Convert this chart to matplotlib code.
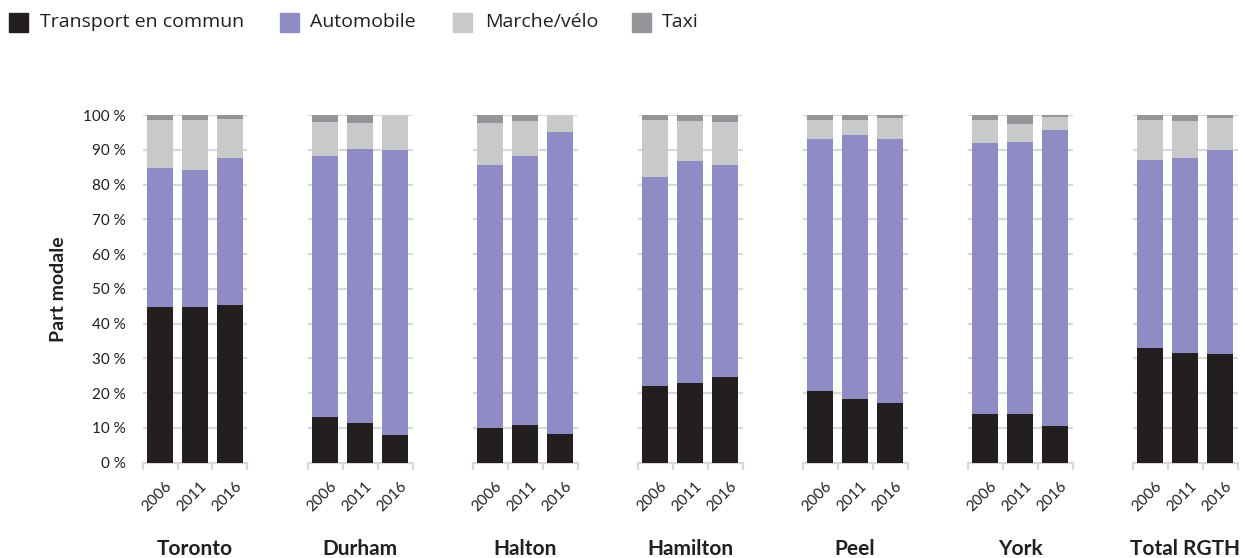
import matplotlib
matplotlib.use("Agg")
import matplotlib.pyplot as plt
from matplotlib.patches import Rectangle
import numpy as np

plt.rcParams['font.family'] = ['Lato', 'DejaVu Sans']

regions = ["Toronto", "Durham", "Halton", "Hamilton", "Peel", "York", "Total RGTH"]
years = ["2006", "2011", "2016"]
modes = ["Transport en commun", "Automobile", "Marche/vélo", "Taxi"]
colors = ["#231f20", "#8f8bc4", "#c8c9cb", "#939598"]

# Modal shares (%) per region, one value per census year
transit = {
    "Toronto": [44.7, 44.8, 45.3],
    "Durham": [13.2, 11.4, 8.1],
    "Halton": [10.0, 10.8, 8.3],
    "Hamilton": [22.1, 23.0, 24.6],
    "Peel": [20.6, 18.4, 17.3],
    "York": [14.1, 14.1, 10.6],
    "Total RGTH": [32.9, 31.5, 31.4],
}
auto = {
    "Toronto": [40.1, 39.4, 42.3],
    "Durham": [75.0, 78.7, 81.8],
    "Halton": [75.7, 77.4, 86.8],
    "Hamilton": [60.2, 63.8, 61.0],
    "Peel": [72.5, 75.8, 75.8],
    "York": [77.9, 78.1, 85.2],
    "Total RGTH": [54.2, 56.2, 58.5],
}
walk_bike = {
    "Toronto": [13.8, 14.4, 11.3],
    "Durham": [9.8, 7.7, 10.1],
    "Halton": [12.1, 10.1, 4.9],
    "Hamilton": [16.3, 11.5, 12.4],
    "Peel": [5.4, 4.4, 6.1],
    "York": [6.6, 5.3, 3.7],
    "Total RGTH": [11.5, 10.7, 9.3],
}
taxi = {
    "Toronto": [1.4, 1.4, 1.1],
    "Durham": [2.0, 2.2, 0.0],
    "Halton": [2.2, 1.7, 0.0],
    "Hamilton": [1.4, 1.7, 2.0],
    "Peel": [1.5, 1.4, 0.8],
    "York": [1.4, 2.5, 0.5],
    "Total RGTH": [1.4, 1.6, 0.8],
}
series = [transit, auto, walk_bike, taxi]

W, H = 1245, 558
fig = plt.figure(figsize=(W / 100, H / 100), dpi=100)

grid_c = "#d9d9d9"
text_c = "#231f20"

left0, panel_w, step = 142.5, 105.0, 165.0
bottom_px, top_px = 462.7, 115.0

for g, reg in enumerate(regions):
    l = left0 + step * g
    ax = fig.add_axes([l / W, (H - bottom_px) / H, panel_w / W, (bottom_px - top_px) / H])
    x = np.arange(len(years))
    base = np.zeros(len(years))
    for s, c in zip(series, colors):
        vals = np.array(s[reg])
        ax.bar(x, vals, bottom=base, width=0.77, color=c, linewidth=0, zorder=3)
        base += vals
    ax.set_xlim(-0.5, 2.5)
    ax.set_ylim(0, 100)
    ax.set_yticks(np.arange(0, 101, 10))
    ax.yaxis.grid(True, color=grid_c, linewidth=1.6, zorder=0)
    ax.set_axisbelow(True)
    for sp in ["top", "right", "left"]:
        ax.spines[sp].set_visible(False)
    ax.spines["bottom"].set_color(grid_c)
    ax.spines["bottom"].set_linewidth(1.6)
    ax.tick_params(axis="y", length=0)
    if g == 0:
        ax.set_yticklabels([f"{v} %" for v in range(0, 101, 10)], fontsize=11, color=text_c)
        ax.tick_params(axis="y", pad=12)
        ax.set_ylabel("Part modale", fontsize=14, fontweight="bold", color=text_c, labelpad=12)
    else:
        ax.set_yticklabels([])
    # slot-boundary ticks below the axis
    ax.set_xticks([-0.5, 0.5, 1.5, 2.5], minor=True)
    ax.tick_params(axis="x", which="minor", length=5, color=grid_c, width=1.6)
    ax.set_xticks(x + 0.12)
    ax.set_xticklabels(years, rotation=45, ha="right", va="top", rotation_mode="anchor",
                       fontsize=11, color=text_c)
    ax.tick_params(axis="x", which="major", length=0, pad=12)
    fig.text((l + panel_w / 2) / W, 1 - 549 / H, reg, ha="center", va="center",
             fontsize=15, fontweight="bold", color=text_c)

# Legend along the top
leg_items = [(9, 40), (280, 310), (453, 485), (632, 662)]
for (sq_x, tx_x), lab, c in zip(leg_items, modes, colors):
    fig.add_artist(Rectangle((sq_x / W, 1 - 32 / H), 19 / W, 19 / H, color=c,
                             transform=fig.transFigure))
    fig.text(tx_x / W, 1 - 22 / H, lab, ha="left", va="center", fontsize=14,
             family=["Open Sans", "DejaVu Sans"], color=text_c)

fig.savefig("out.png", dpi=100)
